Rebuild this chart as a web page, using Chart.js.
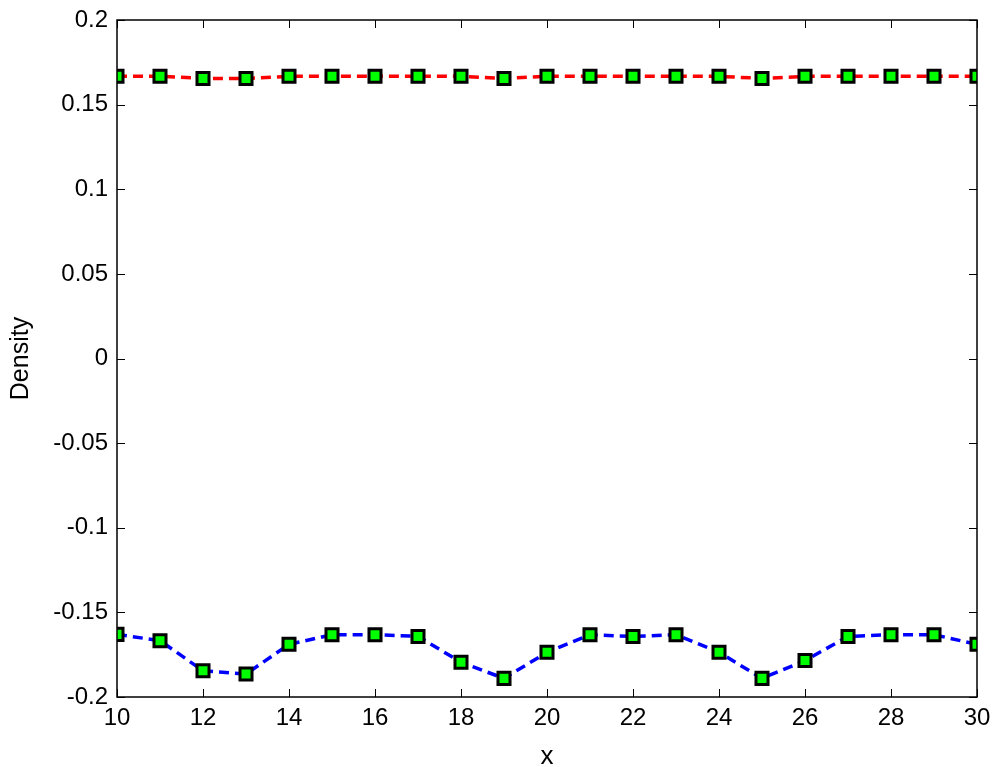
<!DOCTYPE html>
<html>
<head>
<meta charset="utf-8">
<script src="https://cdn.jsdelivr.net/npm/chart.js@4"></script>
<style>
  html, body { margin: 0; padding: 0; background: #fff; }
  #wrap { width: 997px; height: 767px; }
</style>
</head>
<body>
<div id="wrap"><canvas id="myChart" width="997" height="767"></canvas></div>
<script>
const xs = [10, 11, 12, 13, 14, 15, 16, 17, 18, 19, 20, 21, 22, 23, 24, 25, 26, 27, 28, 29, 30];
const upper = [0.1667, 0.1667, 0.1655, 0.1655, 0.1667, 0.1667, 0.1667, 0.1667, 0.1667, 0.1655, 0.1667,
  0.1667, 0.1667, 0.1667, 0.1667, 0.1655, 0.1667, 0.1667, 0.1667, 0.1667, 0.1667];
const lower = [-0.163, -0.1667, -0.1845, -0.1864, -0.1689, -0.1632, -0.1632, -0.1642, -0.1795, -0.189, -0.1736,
  -0.1632, -0.1642, -0.1632, -0.1736, -0.189, -0.1785, -0.1642, -0.1632, -0.1632, -0.1689];
const xTicks = [10, 12, 14, 16, 18, 20, 22, 24, 26, 28, 30];
const yTicks = [-0.2, -0.15, -0.1, -0.05, 0, 0.05, 0.1, 0.15, 0.2];

const FONT = "Liberation Sans, Arial, sans-serif";

function series(vals, color) {
  return {
    data: xs.map((x, i) => ({ x: x, y: vals[i] })),
    borderColor: color,
    borderWidth: 3.5,
    borderDash: [10, 6],
    pointStyle: "rect",
    pointRadius: 8.5,
    pointBorderWidth: 3,
    pointBorderColor: "#000",
    pointBackgroundColor: "#00ff00",
    tension: 0,
  };
}

// matlab style box with ticks pointing into the axes
const boxTicks = {
  id: "boxTicks",
  afterDraw(chart) {
    const { ctx, chartArea: a, scales } = chart;
    const len = 8;
    ctx.save();
    ctx.strokeStyle = "#000";
    ctx.lineWidth = 1;
    xTicks.forEach((v) => {
      const px = Math.round(scales.x.getPixelForValue(v)) + 0.5;
      ctx.beginPath();
      ctx.moveTo(px, a.bottom); ctx.lineTo(px, a.bottom - len);
      ctx.moveTo(px, a.top); ctx.lineTo(px, a.top + len);
      ctx.stroke();
    });
    yTicks.forEach((v) => {
      const py = Math.round(scales.y.getPixelForValue(v)) + 0.5;
      ctx.beginPath();
      ctx.moveTo(a.left, py); ctx.lineTo(a.left + len, py);
      ctx.moveTo(a.right, py); ctx.lineTo(a.right - len, py);
      ctx.stroke();
    });
    ctx.lineWidth = 1.5;
    ctx.strokeRect(a.left, a.top, a.right - a.left, a.bottom - a.top);
    ctx.restore();
  },
};

new Chart(document.getElementById("myChart"), {
  type: "line",
  data: { datasets: [series(lower, "#0000ff"), series(upper, "#ff0000")] },
  options: {
    responsive: false,
    animation: false,
    layout: { padding: { top: 20, right: 20, left: 0, bottom: 0 } },
    plugins: { legend: { display: false }, tooltip: { enabled: false } },
    scales: {
      x: {
        type: "linear",
        min: 10,
        max: 30,
        afterBuildTicks: (s) => { s.ticks = xTicks.map((v) => ({ value: v })); },
        // fixed axis sizes so the plot box sits at 117..977 x 20..697
        afterFit: (s) => { s.height = 70; s.paddingLeft = 0; s.paddingRight = 0; },
        grid: { display: false, drawTicks: false },
        border: { display: false },
        ticks: { color: "#000", font: { family: FONT, size: 24 }, padding: 7 },
        title: {
          display: true, text: "x", color: "#000",
          font: { family: FONT, size: 26, lineHeight: 0.8 }, padding: { top: 0, bottom: 0 },
        },
      },
      y: {
        min: -0.2,
        max: 0.2,
        afterBuildTicks: (s) => { s.ticks = yTicks.map((v) => ({ value: v })); },
        afterFit: (s) => { s.width = 117; s.paddingTop = 0; s.paddingBottom = 0; },
        grid: { display: false, drawTicks: false },
        border: { display: false },
        ticks: {
          color: "#000",
          font: { family: FONT, size: 24 },
          padding: 9,
          callback: (v) => String(Math.round(v * 100) / 100),
        },
        title: {
          display: true, text: "Density", color: "#000",
          font: { family: FONT, size: 25, lineHeight: 1.2 }, padding: { top: 6, bottom: 0 },
        },
      },
    },
  },
  plugins: [boxTicks],
});
</script>
</body>
</html>
